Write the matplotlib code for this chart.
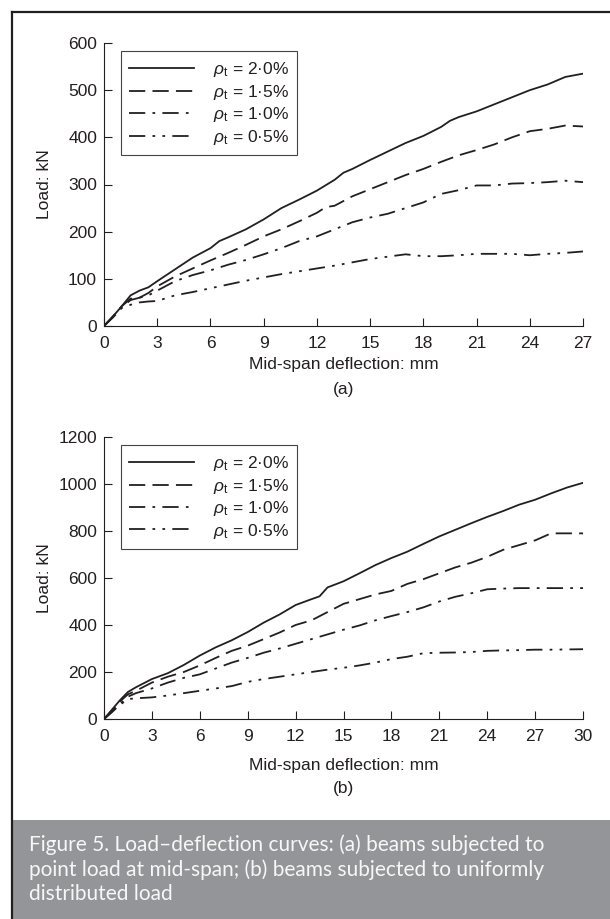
import matplotlib
matplotlib.use("Agg")
import matplotlib.pyplot as plt
from matplotlib.patches import Rectangle
from matplotlib.lines import Line2D

# -----------------------------
# Data
# -----------------------------
labels = [r"$\rho_\mathrm{t}$ = 2·0%", r"$\rho_\mathrm{t}$ = 1·5%",
          r"$\rho_\mathrm{t}$ = 1·0%", r"$\rho_\mathrm{t}$ = 0·5%"]

# (a) point load at mid-span
xa_20 = [0, 0.5, 1.0, 1.5, 2, 2.5, 3, 4, 5, 6, 6.5, 7, 8, 9, 10, 11, 12, 13, 13.5, 14, 15,
         16, 17, 18, 19, 19.5, 20, 21, 22, 23, 24, 25, 25.5, 26, 27]
ya_20 = [0, 20, 42, 65, 75, 82, 95, 120, 145, 165, 180, 188, 205, 226, 250, 268, 287, 310, 325,
         333, 352, 370, 388, 403, 422, 435, 443, 455, 470, 485, 500, 512, 520, 528, 535]
xa_15 = [0, 0.5, 1.0, 1.5, 2, 2.5, 3, 4, 5, 6, 7, 8, 9, 10, 11, 12, 12.5, 13, 14, 15, 16, 17,
         18, 19, 20, 21, 22, 23, 24, 25, 26, 27]
ya_15 = [0, 20, 42, 58, 60, 70, 84, 105, 122, 139, 155, 172, 190, 205, 222, 240, 252, 255, 275,
         290, 305, 320, 333, 348, 362, 373, 385, 400, 413, 418, 425, 423]
xa_10 = [0, 0.5, 1, 1.5, 2, 2.5, 3, 4, 5, 6, 7, 8, 9, 10, 11, 12, 13, 14, 15, 16, 17, 18, 19,
         20, 21, 22, 23, 24, 25, 26, 27]
ya_10 = [0, 20, 40, 55, 60, 65, 75, 95, 108, 118, 130, 140, 152, 165, 180, 190, 205, 220, 230,
         238, 250, 262, 280, 288, 298, 298, 302, 303, 305, 308, 305]
xa_05 = [0, 0.5, 1, 1.5, 2, 2.5, 3, 4, 5, 6, 7, 8, 9, 10, 11, 12, 13, 14, 15, 16, 17, 18, 19,
         20, 21, 22, 23, 24, 25, 26, 27]
ya_05 = [0, 18, 38, 45, 50, 52, 53, 65, 72, 80, 88, 96, 103, 110, 116, 122, 128, 135, 142, 147,
         152, 148, 148, 150, 153, 153, 153, 150, 153, 155, 158]

# (b) uniformly distributed load
xb_20 = [0, 0.5, 1, 1.5, 2, 3, 4, 5, 6, 7, 8, 9, 10, 11, 12, 13, 13.5, 14, 15, 16, 17, 18, 19,
         20, 21, 22, 23, 24, 25, 26, 27, 28, 29, 30]
yb_20 = [0, 40, 80, 115, 135, 170, 195, 230, 270, 305, 335, 370, 410, 445, 485, 510, 522, 560,
         586, 620, 655, 685, 712, 745, 777, 805, 833, 860, 885, 912, 933, 960, 985, 1005]
xb_15 = [0, 0.5, 1, 1.5, 2, 3, 4, 5, 6, 7, 8, 9, 10, 11, 12, 13, 14, 15, 16, 17, 18, 19, 20,
         21, 22, 23, 24, 25, 26, 27, 28, 29, 30]
yb_15 = [0, 35, 75, 105, 120, 155, 180, 200, 228, 260, 290, 312, 340, 368, 400, 420, 455, 490,
         510, 530, 545, 575, 595, 620, 645, 665, 690, 720, 740, 760, 790, 790, 790]
xb_10 = [0, 0.5, 1, 1.5, 2, 3, 4, 5, 6, 7, 8, 9, 10, 11, 12, 13, 14, 15, 16, 17, 18, 19, 20,
         21, 22, 23, 24, 25, 26, 27, 28, 29, 30]
yb_10 = [0, 30, 65, 95, 110, 130, 155, 175, 190, 215, 240, 260, 282, 300, 320, 340, 360, 380,
         398, 420, 438, 455, 475, 500, 520, 535, 552, 555, 557, 557, 557, 557, 557]
xb_05 = [0, 0.5, 1, 1.5, 2, 3, 4, 5, 6, 7, 8, 9, 10, 11, 12, 13, 14, 15, 16, 17, 18, 19, 20,
         21, 22, 23, 24, 25, 26, 27, 28, 29, 30]
yb_05 = [0, 30, 60, 85, 88, 92, 100, 110, 120, 130, 140, 158, 170, 180, 190, 200, 210, 218,
         228, 240, 255, 265, 280, 282, 283, 285, 290, 292, 293, 295, 295, 296, 297]

xticks_a = list(range(0, 28, 3))
yticks_a = list(range(0, 601, 100))
xticks_b = list(range(0, 31, 3))
yticks_b = list(range(0, 1201, 200))

caption = ("Figure 5. Load\u2013deflection curves: (a) beams subjected to\n"
           "point load at mid-span; (b) beams subjected to uniformly\n"
           "distributed load")

# -----------------------------
# Styling
# -----------------------------
plt.rcParams["font.family"] = ["Liberation Sans", "DejaVu Sans"]
plt.rcParams["mathtext.fontset"] = "custom"
plt.rcParams["mathtext.rm"] = "Liberation Sans"
plt.rcParams["mathtext.it"] = "Liberation Sans:italic"
TXT = "#231f20"
FS = 12.5
styles = ["-", (0, (9, 4)), (0, (9, 4, 1.5, 4)), (0, (9, 4, 1.5, 4, 1.5, 4))]

W, H = 610, 919
fig = plt.figure(figsize=(W / 100, H / 100), dpi=100)


def px_axes(left, top, right, bottom):
    return fig.add_axes([left / W, 1 - bottom / H, (right - left) / W, (bottom - top) / H])


def draw_panel(ax, series, xmax, ymax, xticks, yticks, tag, xpad, xlabelpad, tag_y):
    for (x, y), ls, lab in zip(series, styles, labels):
        ax.plot(x, y, color=TXT, lw=1.3, linestyle=ls, label=lab)
    ax.set_xlim(0, xmax)
    ax.set_ylim(0, ymax)
    ax.set_xticks(xticks)
    ax.set_yticks(yticks)
    for s in ["top", "right"]:
        ax.spines[s].set_visible(False)
    for s in ["left", "bottom"]:
        ax.spines[s].set_color(TXT)
        ax.spines[s].set_linewidth(0.8)
    ax.tick_params(direction="in", length=6, width=0.8, color=TXT,
                   labelsize=FS, labelcolor=TXT)
    ax.tick_params(axis="x", pad=xpad)
    ax.tick_params(axis="y", pad=5)
    ax.set_ylabel("Load: kN", fontsize=FS, color=TXT)
    ax.yaxis.set_label_coords(-0.109, 0.5)
    ax.set_xlabel("Mid-span deflection: mm", fontsize=FS, color=TXT, labelpad=xlabelpad)
    ax.text(0.5, tag_y, tag, transform=ax.transAxes, ha="center", va="center",
            fontsize=FS, color=TXT)
    leg = ax.legend(loc="upper left", bbox_to_anchor=(0.035, 0.97), fontsize=FS,
                    handlelength=3.7, handletextpad=1.1, labelspacing=0.2,
                    borderpad=0.5, borderaxespad=0, fancybox=False, framealpha=1,
                    edgecolor="#444444")
    leg.get_frame().set_linewidth(0.8)
    for t in leg.get_texts():
        t.set_color(TXT)


ax_a = px_axes(104, 43, 583, 326)
draw_panel(ax_a, [(xa_20, ya_20), (xa_15, ya_15), (xa_10, ya_10), (xa_05, ya_05)],
           27, 600, xticks_a, yticks_a, "(a)", 7.5, 4, -0.225)

ax_b = px_axes(104, 437, 583, 719)
draw_panel(ax_b, [(xb_20, yb_20), (xb_15, yb_15), (xb_10, yb_10), (xb_05, yb_05)],
           30, 1200, xticks_b, yticks_b, "(b)", 7, 10, -0.245)

# -----------------------------
# Frame + caption band
# -----------------------------
fig.patches.append(Rectangle((13 / W, 0), 1, (H - 820) / H, transform=fig.transFigure,
                             facecolor="#939598", edgecolor="none"))
fig.lines.append(Line2D([12 / W, 12 / W], [0, 1 - 12 / H], transform=fig.transFigure,
                        color=TXT, lw=1.6))
fig.lines.append(Line2D([12 / W, 1], [1 - 12 / H, 1 - 12 / H], transform=fig.transFigure,
                        color=TXT, lw=1.6))
fig.text(29 / W, 1 - 834 / H, caption, ha="left", va="top", fontsize=15,
         family=["Lato", "DejaVu Sans"], color="#f7f7f7", linespacing=1.28)

fig.savefig("out.png", dpi=100)
